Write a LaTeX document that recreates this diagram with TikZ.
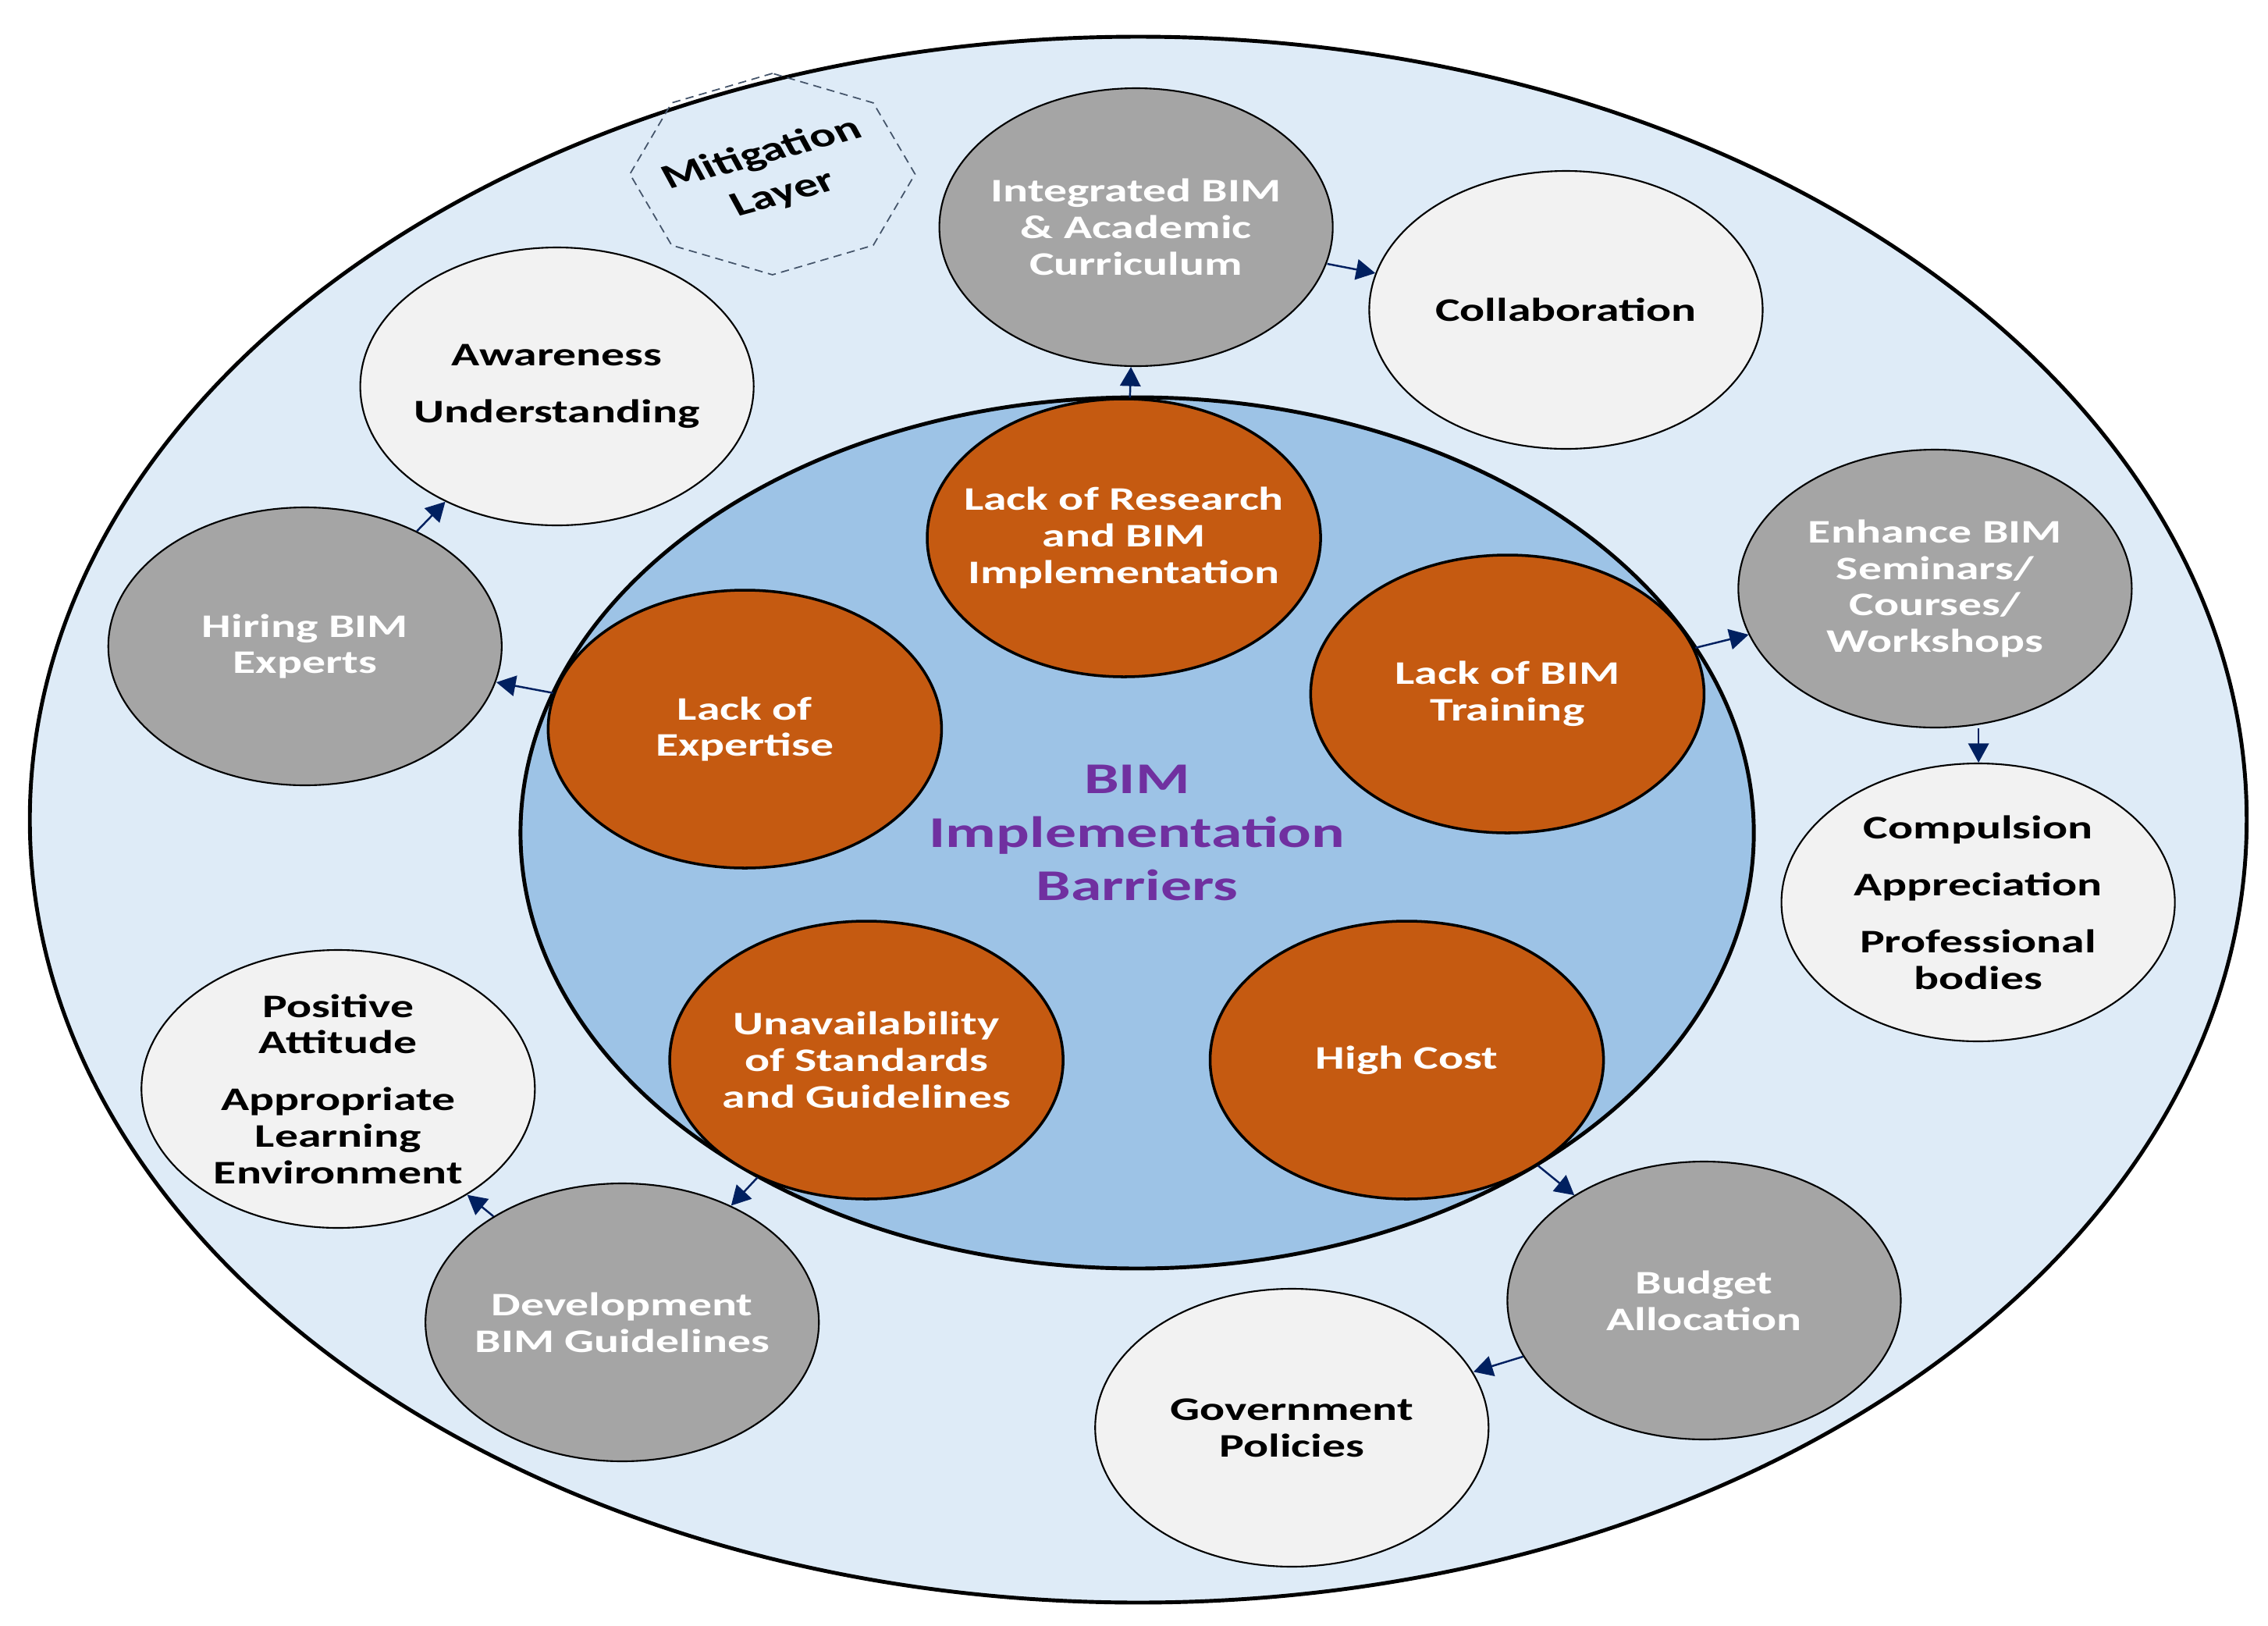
\documentclass[tikz,border=0pt]{standalone}
\usepackage{fontspec}
\setmainfont{Carlito}
\usepackage{xcolor}
\usetikzlibrary{shapes.geometric, arrows.meta, positioning}
\definecolor{layerblue}{RGB}{222,235,247}
\definecolor{coreblue}{RGB}{157,195,230}
\definecolor{barrierorange}{RGB}{197,90,17}
\definecolor{measuregray}{RGB}{165,165,165}
\definecolor{outcomelight}{RGB}{242,242,242}
\definecolor{titlepurple}{RGB}{112,48,160}
\definecolor{linknavy}{RGB}{0,32,96}
\definecolor{octoline}{RGB}{68,84,106}

\begin{document}
\begin{tikzpicture}[
  xscale=1.416,
  every node/.append style={transform shape},
  base/.style={
    circle, draw=black, line width=0.6pt,
    minimum size=3.56cm, inner sep=0pt, align=center,
    font=\fontsize{12}{13.3}\selectfont\bfseries
  },
  barrier/.style={base, fill=barrierorange, text=white, line width=1pt},
  measure/.style={base, fill=measuregray, text=white},
  outcome/.style={base, fill=outcomelight, text=black},
  ring/.style={circle, draw=black, line width=1.4pt, inner sep=0pt},
  octo/.style={
    regular polygon, regular polygon sides=8, shape border rotate=22.5,
    draw=octoline, densely dashed, line width=0.5pt,
    minimum size=2.58cm, inner sep=0pt
  },
  link/.style={draw=linknavy, line width=0.7pt, -{Triangle[length=7pt,width=7.5pt]}}
]
\useasboundingbox (0,0) rectangle (20.523,-20.83);

% ── CAPAS ────────────────────────────────────────────────────

\node[ring, fill=layerblue, minimum size=20.06cm] (outer) at (10.30,-10.50) {};
\node[octo] (layer) at (6.99,-2.23) {};
\node[font=\fontsize{12.5}{15.5}\selectfont\bfseries, align=center, rotate=21] (layertext) at (layer) {Mitigation\\Layer};
\node[ring, fill=coreblue, minimum size=11.16cm, text=titlepurple, align=center,
      font=\fontsize{16}{19.4}\selectfont\bfseries] (core) at (10.29,-10.67) {BIM\\Implementation\\Barriers};

% ── BARRERAS ─────────────────────────────────────────────────

\node[barrier] (research)  at (10.17,-6.89)  {Lack of Research\\and BIM\\Implementation};
\node[barrier] (expertise) at (6.74,-9.34)   {Lack of\\Expertise};
\node[barrier] (training)  at (13.64,-8.89)  {Lack of BIM\\Training};
\node[barrier] (standards) at (7.84,-13.58)  {Unavailability\\of Standards\\and Guidelines};
\node[barrier] (cost)      at (12.73,-13.58) {High Cost};

% ── MEDIDAS ──────────────────────────────────────────────────

\node[measure] (curriculum) at (10.28,-2.91)  {Integrated BIM\\\& Academic\\Curriculum};
\node[measure] (hiring)     at (2.76,-8.28)   {Hiring BIM\\Experts};
\node[measure] (seminars)   at (17.51,-7.54)  {Enhance BIM\\Seminars/\\Courses/\\Workshops};
\node[measure] (guidelines) at (5.63,-16.94)  {Development\\BIM Guidelines};
\node[measure] (budget)     at (15.42,-16.66) {Budget\\Allocation};

% ── RESULTADOS ───────────────────────────────────────────────

\node[outcome] (collab)     at (14.17,-3.97)  {Collaboration};
\node[outcome] (awareness)  at (5.04,-4.95)   {Awareness\\[7.5pt]Understanding};
\node[outcome] (compulsion) at (17.90,-11.56) {Compulsion\\[7.5pt]Appreciation\\[7.5pt]Professional\\bodies};
\node[outcome] (attitude)   at (3.06,-13.95)  {Positive\\Attitude\\[7.5pt]Appropriate\\Learning\\Environment};
\node[outcome] (policies)   at (11.69,-18.29) {Government\\Policies};

% ── RELACIONES ───────────────────────────────────────────────

% research -> curriculum -> collaboration
\draw[link] (research)   -- (curriculum);
\draw[link] (curriculum) -- (collab);
% training -> seminars -> compulsion
\draw[link] (training)   -- (seminars);
\draw[link] (seminars.south -| compulsion.north) -- (compulsion.north);
% cost -> budget -> policies
\draw[link] (cost)       -- (budget);
\draw[link] (budget)     -- (policies);
% standards -> guidelines -> attitude
\draw[link] (standards)  -- (guidelines);
\draw[link] (guidelines) -- (attitude);
% expertise -> hiring -> awareness
\draw[link] (expertise)  -- (hiring);
\draw[link] (hiring)     -- (awareness);

\end{tikzpicture}
\end{document}
